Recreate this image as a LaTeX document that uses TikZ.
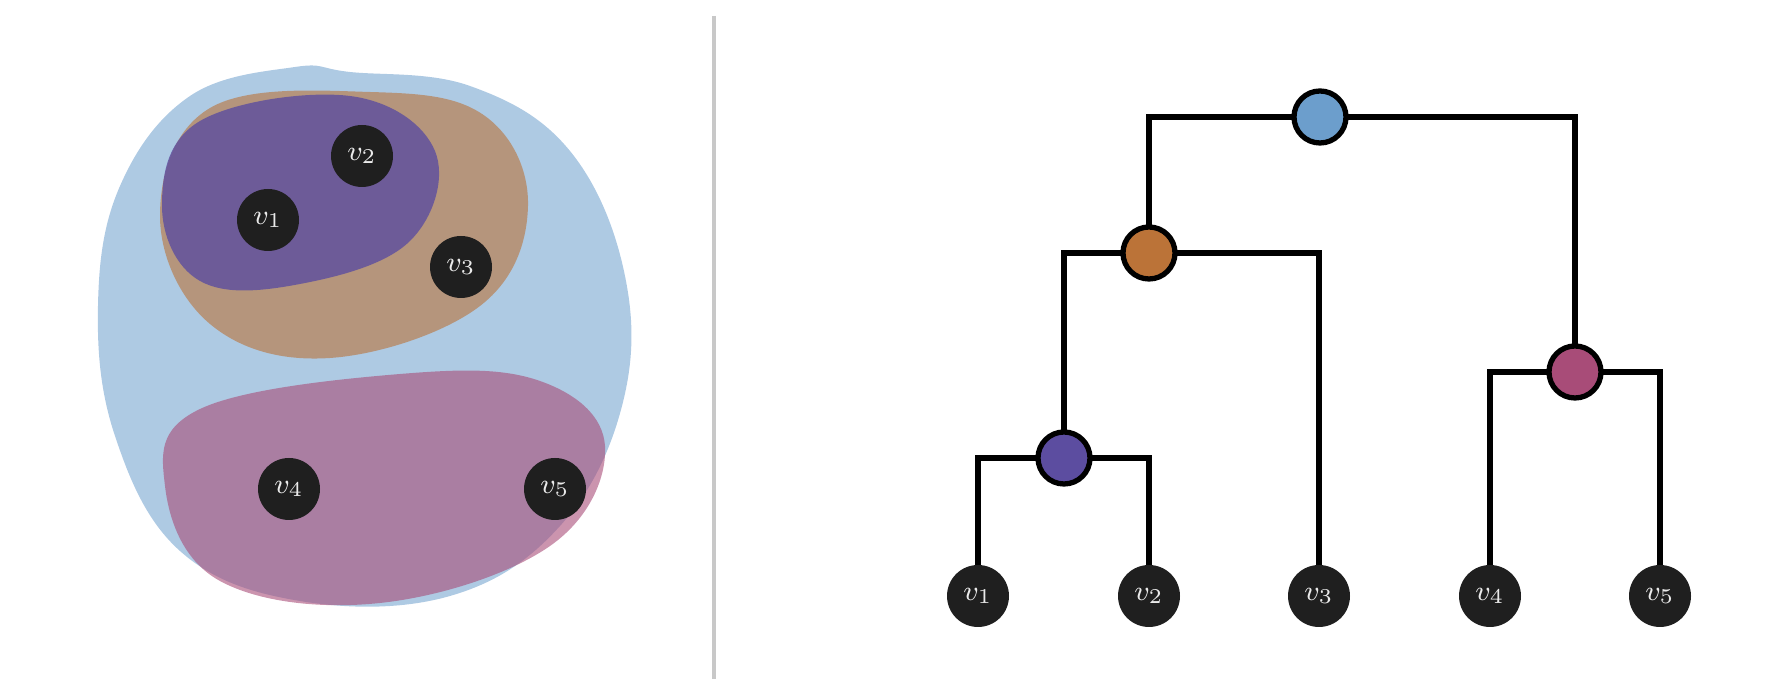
\documentclass[tikz,border=0pt]{standalone}
\usepackage{tikz}

\definecolor{nodeblack}{HTML}{1F1F1F}
\definecolor{labelgray}{HTML}{EAEAEA}
\definecolor{rootblue}{HTML}{6C9ECC}
\definecolor{mergeorange}{HTML}{BB7338}
\definecolor{mergepurple}{HTML}{5C4DA0}
\definecolor{mergemagenta}{HTML}{A84C78}
\definecolor{divider}{HTML}{C8C8C8}

\begin{document}
\begin{tikzpicture}[inner sep=0pt,outer sep=0pt,
vertex/.style={circle,fill=nodeblack,minimum size=0.62cm,text=labelgray,font=\footnotesize},
merge/.style={draw,circle,minimum size=0.52cm,line width=1.5pt},
blob/.style={smooth cycle,tension=0.65}]

\useasboundingbox (0,0) rectangle (17.86,6.96);

% clusters
\fill[rootblue,fill opacity=0.55] plot[blob] coordinates {(2.95,6.29) (3.5,6.24) (4.7,6.1) (5.7,5.45) (6.25,4.2) (6.22,2.9) (5.6,1.7) (4.5,1.0) (3.0,0.95) (1.8,1.45) (1.15,2.6) (0.98,3.9) (1.2,5.1) (1.9,6.0)};
\fill[mergeorange,fill opacity=0.6] plot[blob] coordinates {(2.1,5.88) (3.7,6.04) (4.85,5.8) (5.28,4.9) (4.8,3.9) (3.3,3.38) (2.1,3.72) (1.6,4.8)};
\fill[mergepurple,fill opacity=0.8] plot[blob] coordinates {(2.0,5.75) (3.5,6.0) (4.35,5.45) (4.1,4.55) (3.0,4.12) (2.0,4.15) (1.62,4.9)};
\fill[mergemagenta,fill opacity=0.6] plot[blob] coordinates {(2.0,2.87) (4.0,3.22) (5.4,3.15) (6.05,2.5) (5.5,1.5) (3.8,0.93) (2.2,1.15) (1.65,2.1)};

\draw (2.68,4.76) node[vertex] (a1) {$v_1$};
\draw (3.62,5.40) node[vertex] (a2) {$v_2$};
\draw (4.61,4.29) node[vertex] (a3) {$v_3$};
\draw (2.89,2.07) node[vertex] (a4) {$v_4$};
\draw (5.55,2.07) node[vertex] (a5) {$v_5$};

% divider
\coordinate (top) at (7.14,6.80);
\coordinate (bot) at (7.14,0.17);
\draw[divider,line width=0.9pt] (top) -- (bot);

% dendrogram
\draw (9.78,1.00) node[vertex] (l1) {$v_1$};
\draw (11.49,1.00) node[vertex] (l2) {$v_2$};
\draw (13.19,1.00) node[vertex] (l3) {$v_3$};
\draw (14.90,1.00) node[vertex] (l4) {$v_4$};
\draw (16.60,1.00) node[vertex] (l5) {$v_5$};

\draw (13.20,5.79) node[merge,fill=rootblue] (root) {};
\draw (11.49,4.43) node[merge,fill=mergeorange] (m3) {};
\draw (15.75,3.24) node[merge,fill=mergemagenta] (m45) {};
\draw (10.64,2.38) node[merge,fill=mergepurple] (m12) {};

\draw[line width=1.5pt] (root.west) -| (m3.north);
\draw[line width=1.5pt] (root.east) -| (m45.north);
\draw[line width=1.5pt] (m3.west) -| (m12.north);
\draw[line width=1.5pt] (m3.east) -| (l3.north);
\draw[line width=1.5pt] (m12.west) -| (l1.north);
\draw[line width=1.5pt] (m12.east) -| (l2.north);
\draw[line width=1.5pt] (m45.west) -| (l4.north);
\draw[line width=1.5pt] (m45.east) -| (l5.north);
\end{tikzpicture}
\end{document}
